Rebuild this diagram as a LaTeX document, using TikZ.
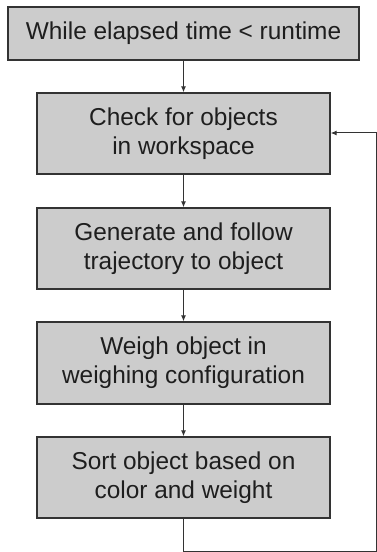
\documentclass[tikz,border=0pt]{standalone}
\usepackage{fontspec}
\setmainfont{Liberation Sans}
\usetikzlibrary{arrows.meta}
\definecolor{boxfill}{HTML}{CCCCCC}
\definecolor{boxline}{HTML}{333333}
\definecolor{ink}{HTML}{1E1E1E}
\tikzset{
  stepbox/.style={draw=boxline, fill=boxfill, line width=1.4bp, rectangle,
    minimum width=293bp, align=center, text=ink, inner sep=0pt,
    font=\fontsize{24.4bp}{29bp}\selectfont},
  flow/.style={draw=boxline, line width=1bp, -{Latex[length=6bp,width=5bp]}},
}
\begin{document}
\begin{tikzpicture}[x=1bp,y=-1bp]
  \useasboundingbox (0,0) rectangle (376,552);
  \node[stepbox, minimum width=351bp, minimum height=53bp] (loop) at (183.5,33.5) {While elapsed time < runtime};
  \node[stepbox, minimum height=81bp] (check) at (183.5,133.5) {Check for objects\\in workspace};
  \node[stepbox, minimum height=81bp] (traj) at (183.5,248.5) {Generate and follow\\trajectory to object};
  \node[stepbox, minimum height=82bp] (weigh) at (183.5,363) {Weigh object in\\weighing configuration};
  \node[stepbox, minimum height=81bp] (sort) at (183.5,477.5) {Sort object based on\\color and weight};

  \draw[flow] (loop.south) -- (check.north);
  \draw[flow] (check.south) -- (traj.north);
  \draw[flow] (traj.south) -- (weigh.north);
  \draw[flow] (weigh.south) -- (sort.north);

  % return path back to the object check, running along the page edge
  \coordinate (down) at (183.5,551.6);
  \coordinate (corner) at (376.3,551.6);
  \coordinate (up) at (376.3,133);
  \draw[flow] (sort.south) -- (down) -- (corner) -- (up) -- (up -| check.east);
\end{tikzpicture}
\end{document}
